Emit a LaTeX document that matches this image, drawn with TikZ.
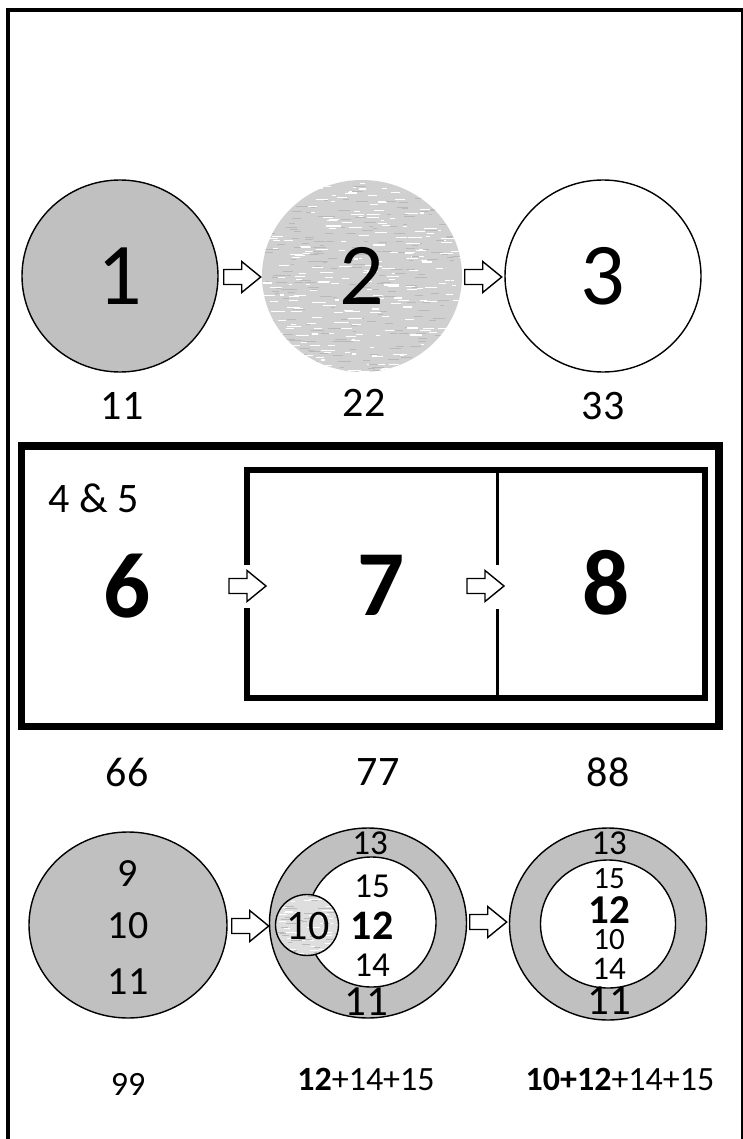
\documentclass[tikz,border=0pt]{standalone}
\usepackage{fontspec}
\setmainfont{Carlito}
\usetikzlibrary{shapes.geometric,calc}
\definecolor{fillgray}{RGB}{192,192,192}
\definecolor{texgray}{RGB}{208,208,208}
\definecolor{texdark}{RGB}{185,185,185}
\definecolor{smallgray}{RGB}{222,222,222}
\newcommand{\fsz}[1]{\fontsize{#1}{#1}\selectfont}
\newcommand{\blockarrow}[1]{\draw[barrow] (#1) ++(0,-7.5) -- ++(18,0) -- ++(0,-8) -- ++(19,15.5) -- ++(-19,15.5) -- ++(0,-8) -- ++(-18,0) -- cycle;}
\newcommand{\streaks}[5]{% cx cy rx ry count
  \foreach \k in {1,...,#5}{%
    \pgfmathsetmacro\xx{#1-#3+2*#3*rnd}%
    \pgfmathsetmacro\yy{#2-#4+2*#4*rnd}%
    \pgfmathsetmacro\ll{3+12*rnd}%
    \draw[white, line width=1.1pt] (\xx,\yy) -- ++(\ll,0);
    \pgfmathsetmacro\xx{#1-#3+2*#3*rnd}%
    \pgfmathsetmacro\yy{#2-#4+2*#4*rnd}%
    \pgfmathsetmacro\ll{3+10*rnd}%
    \draw[texdark, line width=0.9pt] (\xx,\yy) -- ++(\ll,0);
  }}
\begin{document}
\begin{tikzpicture}[x=1pt,y=-1pt,
  ell/.style={ellipse, inner sep=0pt, line width=1.4pt},
  txt/.style={inner sep=0pt, anchor=center},
  barrow/.style={draw=black, fill=white, line width=1.4pt, line join=miter}]
\pgfmathsetseed{7}
\useasboundingbox (0,0) rectangle (743,1139);
\fill[white] (0,0) rectangle (743,1139);
% frame
\draw[line width=4pt] (7.7,8.3) -- (7.7,1139);
\draw[line width=4pt] (5.7,10.3) -- (743,10.3);
\draw[line width=1.5pt] (742,10.3) -- (742,1139);

% ---- top row
\node[ell, draw, fill=fillgray, minimum width=196pt, minimum height=192pt] (c1) at (120,276) {};
\node[ell, fill=texgray, minimum width=200pt, minimum height=192pt] (c2) at (362,276) {};
\begin{scope}
  \clip (362,276) ellipse [x radius=100, y radius=96];
  \streaks{362}{276}{100}{96}{260}
\end{scope}
\node[ell, draw, fill=white, minimum width=196pt, minimum height=192pt] (c3) at (603,276) {};
\node[txt] (t1) at (120,276) {\fsz{88}1};
\node[txt] (t2) at (362,276) {\fsz{88}2};
\node[txt] (t3) at (603,276) {\fsz{88}3};
\coordinate (a1) at ($(c1.east)+(5,1)$);
\coordinate (a2) at ($(c2.east)+(2,1)$);
\blockarrow{a1}
\blockarrow{a2}
\node[txt] (l11) at (122,406) {\fsz{42}11};
\node[txt] (l22) at (364,403) {\fsz{42}22};
\node[txt] (l33) at (603,406) {\fsz{42}33};

% ---- middle box
\draw[line width=7.5pt] (21.5,446) rectangle (719,726.5);
\draw[line width=6pt, line join=miter] (246.5,565) -- (246.5,470) -- (704.5,470) -- (704.5,698) -- (246.5,698) -- (246.5,608);
\draw[line width=3.5pt] (497.5,470) -- (497.5,565);
\draw[line width=3.5pt] (497.5,609) -- (497.5,698);
\node[txt] (t45) at (94,498) {\fsz{42}4 \& 5};
\node[txt] (t6) at (127,586) {\fsz{93}\bfseries 6};
\node[txt] (t7) at (381,585) {\fsz{93}\bfseries 7};
\node[txt] (t8) at (606,583) {\fsz{93}\bfseries 8};
\coordinate (a3) at (229,586);
\coordinate (a4) at (467,586);
\blockarrow{a3}
\blockarrow{a4}
\node[txt] (l66) at (127,772) {\fsz{42}66};
\node[txt] (l77) at (378,772) {\fsz{42}77};
\node[txt] (l88) at (608,772) {\fsz{42}88};

% ---- bottom row
\node[ell, draw, fill=fillgray, minimum width=198pt, minimum height=186pt] (n9) at (128,925) {};
\node[txt] (b9) at (128,874) {\fsz{40}9};
\node[txt] (b10) at (128,926) {\fsz{40}10};
\node[txt] (b11) at (128,982) {\fsz{40}11};

\node[ell, draw, fill=fillgray, minimum width=197pt, minimum height=190pt] (r2) at (368,923) {};
\node[ell, draw, fill=white, minimum width=129pt, minimum height=130pt] (r2i) at (371.5,922) {};
\node[ell, fill=smallgray, minimum width=63pt, minimum height=61pt] (s10) at (307,925) {};
\begin{scope}
  \clip (307,925) ellipse [x radius=31.5, y radius=30.5];
  \streaks{307}{925}{32}{31}{40}
\end{scope}
\draw[line width=1.4pt] (307,925) ellipse [x radius=31.5, y radius=30.5];
\node[txt] (r2t13) at (370,843) {\fsz{35}13};
\node[txt] (r2t15) at (372,886) {\fsz{35}15};
\node[txt] (r2t12) at (372,926) {\fsz{42}\bfseries 12};
\node[txt] (r2t14) at (372,965) {\fsz{35}14};
\node[txt] (r2t11) at (366,1002) {\fsz{43}11};
\node[txt] (s10t) at (308,926) {\fsz{42}10};

\node[ell, draw, fill=fillgray, minimum width=197pt, minimum height=192pt] (r3) at (608,924) {};
\node[ell, draw, fill=white, minimum width=135pt, minimum height=128pt] (r3i) at (608,924) {};
\node[txt] (r3t13) at (609,843) {\fsz{35}13};
\node[txt] (r3t15) at (609,879) {\fsz{31}15};
\node[txt] (r3t12) at (609,910) {\fsz{41}\bfseries 12};
\node[txt] (r3t10) at (609,940) {\fsz{31}10};
\node[txt] (r3t14) at (609,969) {\fsz{33}14};
\node[txt] (r3t11) at (609,1001) {\fsz{43}11};

\coordinate (b1) at ($(n9.east)+(4,1)$);
\coordinate (b2) at ($(r2.east)+(2.5,-1)$);
\blockarrow{b1}
\blockarrow{b2}

\node[txt] (l99) at (128,1084) {\fsz{34}99};
\node[txt] (lsum1) at (366,1079) {\fsz{34}\textbf{12}+14+15};
\node[txt] (lsum2) at (620,1079) {\fsz{34}\textbf{10+12}+14+15};
\end{tikzpicture}
\end{document}
